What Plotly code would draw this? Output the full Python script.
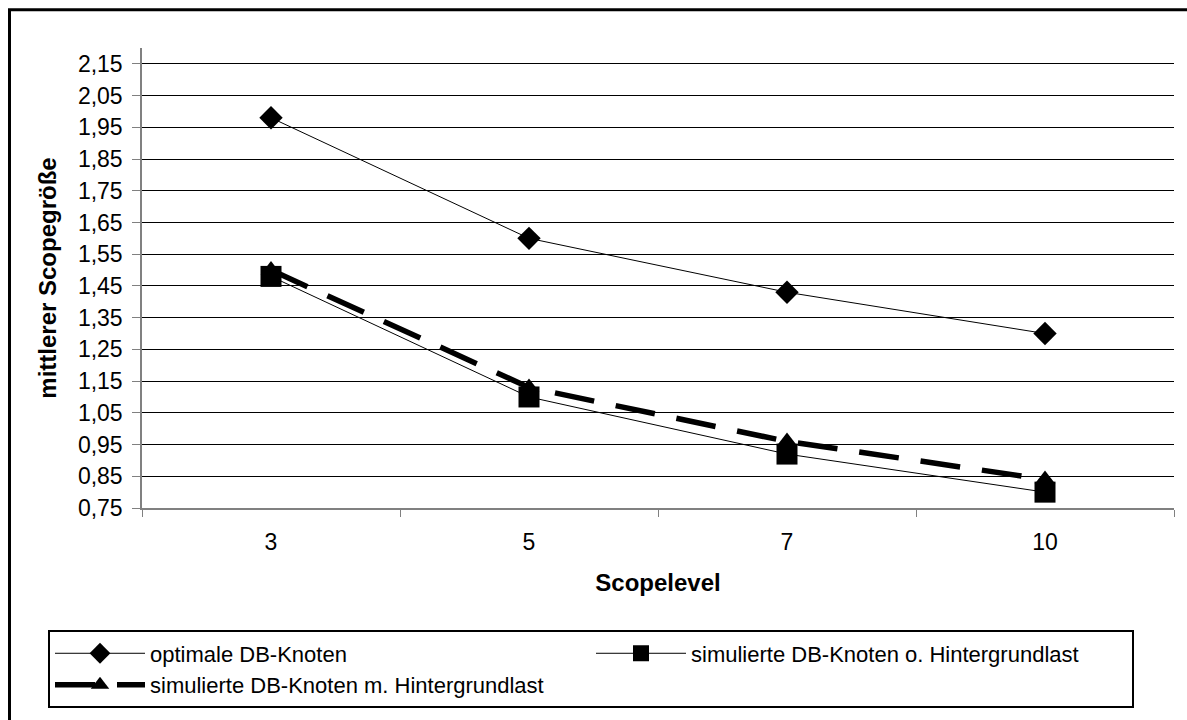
import plotly.graph_objects as go

# ---- data ----
categories = ["3", "5", "7", "10"]
optimale = [1.98, 1.60, 1.43, 1.30]
sim_ohne = [1.48, 1.10, 0.92, 0.80]
sim_mit = [1.50, 1.13, 0.96, 0.84]
y_tickvals = [0.75, 0.85, 0.95, 1.05, 1.15, 1.25, 1.35, 1.45, 1.55, 1.65, 1.75, 1.85, 1.95, 2.05, 2.15]
y_ticktext = ["0,75", "0,85", "0,95", "1,05", "1,15", "1,25", "1,35", "1,45", "1,55", "1,65",
              "1,75", "1,85", "1,95", "2,05", "2,15"]
names = ["optimale DB-Knoten",
         "simulierte DB-Knoten o. Hintergrundlast",
         "simulierte DB-Knoten m. Hintergrundlast"]

# ---- layout geometry (pixels) ----
W, H = 1187, 720
L, R, T, B = 142, 1174, 48, 510
PW, PH = R - L, B - T


def px2x(px):
    return (px - L) / PW


def px2y(py):
    return (B - py) / PH


FONT = "Liberation Sans, Arial, sans-serif"

fig = go.Figure()
fig.add_trace(go.Scatter(
    x=categories, y=optimale, name=names[0], mode="lines+markers",
    line=dict(color="black", width=1),
    marker=dict(symbol="diamond", size=18, color="black"),
))
fig.add_trace(go.Scatter(
    x=categories, y=sim_ohne, name=names[1], mode="lines+markers",
    line=dict(color="black", width=1),
    marker=dict(symbol="square", size=21, color="black"),
))
fig.add_trace(go.Scatter(
    x=categories, y=sim_mit, name=names[2], mode="lines+markers",
    line=dict(color="black", width=5.5, dash="40px,22px"),
    marker=dict(symbol="triangle-up", size=18, color="black"),
))

fig.update_layout(
    width=W, height=H,
    margin=dict(l=L, r=W - R, t=T, b=H - B, pad=0),
    paper_bgcolor="white", plot_bgcolor="white",
    font=dict(family=FONT, size=22, color="black"),
    showlegend=True,
    legend=dict(
        orientation="h",
        x=px2x(48), xanchor="left",
        y=px2y(633), yanchor="top",
        bordercolor="black", borderwidth=2, bgcolor="white",
        font=dict(size=22, family=FONT, color="black"),
        itemwidth=90,
        entrywidth=436, entrywidthmode="pixels",
        traceorder="normal",
        tracegroupgap=0,
    ),
    shapes=[dict(
        type="rect", xref="paper", yref="paper",
        x0=px2x(9.5), x1=px2x(1200), y0=px2y(9.5), y1=px2y(735),
        line=dict(color="black", width=3), fillcolor="rgba(0,0,0,0)",
        layer="below",
    )],
)

fig.update_xaxes(
    type="category",
    categoryorder="array", categoryarray=categories,
    range=[-0.5, len(categories) - 0.5],
    showgrid=False,
    showline=True, linecolor="#808080", linewidth=1.5,
    ticks="outside", ticklen=7, tickcolor="#808080", tickwidth=1,
    tickson="boundaries",
    tickfont=dict(size=23, family=FONT, color="black"),
    ticklabelstandoff=13,
    title=dict(text="Scopelevel", standoff=20,
               font=dict(size=24, family=FONT, color="black", weight="bold")),
    zeroline=False,
)

fig.update_yaxes(
    range=[0.75, 2.2],
    tickvals=y_tickvals, ticktext=y_ticktext,
    showgrid=True, gridcolor="black", gridwidth=1,
    showline=True, linecolor="#808080", linewidth=1.5,
    ticks="outside", ticklen=8, tickcolor="#808080", tickwidth=1,
    tickfont=dict(size=23, family=FONT, color="black"),
    ticklabelstandoff=5,
    title=dict(text="mittlerer Scopegröße", standoff=14,
               font=dict(size=24, family=FONT, color="black", weight="bold")),
    zeroline=False,
)

fig.write_html("out.html")
